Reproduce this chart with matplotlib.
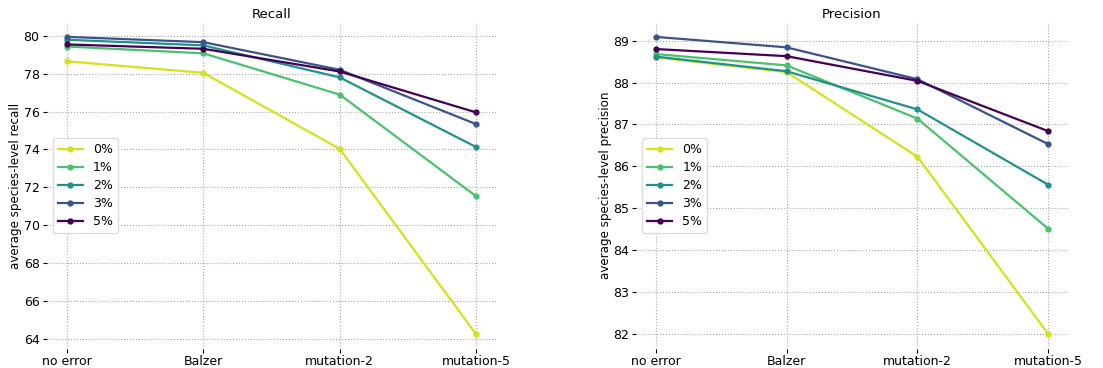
#!/usr/bin/env python3
"""Recall / precision vs. error rate for the four read-simulation settings."""
import matplotlib
matplotlib.use("Agg")
import matplotlib.pyplot as plt

settings = ["no error", "Balzer", "mutation-2", "mutation-5"]
error_rates = ["0%", "1%", "2%", "3%", "5%"]
colors = ["#d2e21b", "#4ac16d", "#21918c", "#3b528b", "#440154"]

recall = {
    "0%": [78.66, 78.05, 74.03, 64.24],
    "1%": [79.44, 79.08, 76.90, 71.53],
    "2%": [79.80, 79.50, 77.81, 74.13],
    "3%": [79.95, 79.67, 78.21, 75.34],
    "5%": [79.55, 79.32, 78.12, 75.96],
}
precision = {
    "0%": [88.60, 88.25, 86.23, 82.00],
    "1%": [88.68, 88.41, 87.14, 84.51],
    "2%": [88.62, 88.27, 87.36, 85.56],
    "3%": [89.09, 88.84, 88.08, 86.53],
    "5%": [88.80, 88.63, 88.04, 86.84],
}


def draw_panel(ax, values, title, ylabel):
    xs = range(len(settings))
    for rate, col in zip(error_rates, colors):
        ax.plot(xs, values[rate], color=col, marker="o", markersize=3.5,
                linewidth=1.6, label=rate)
    ax.set_xticks(list(xs))
    ax.set_xticklabels(settings)
    ax.set_title(title, fontsize=9.5, pad=3)
    ax.set_ylabel(ylabel, fontsize=8.6, labelpad=1)
    ax.grid(True, linestyle=":", color="#aaaaaa", linewidth=0.8)
    for s in ax.spines.values():
        s.set_visible(False)
    ax.tick_params(labelsize=9, length=3, width=0.8)
    ax.tick_params(axis="x", pad=1.5)
    ax.tick_params(axis="y", pad=2)
    ax.legend(loc="center left", fontsize=9, framealpha=1.0,
              edgecolor="#dddddd", handlelength=2.0, labelspacing=0.4)


fig = plt.figure(figsize=(11.03, 3.68), dpi=100)
ax1 = fig.add_axes([46.5 / 1103, 19 / 368, 450 / 1103, 327 / 368])
ax2 = fig.add_axes([636 / 1103, 19 / 368, 432 / 1103, 327 / 368])
draw_panel(ax1, recall, "Recall", "average species-level recall")
draw_panel(ax2, precision, "Precision", "average species-level precision")
fig.savefig("out.png", dpi=100)
